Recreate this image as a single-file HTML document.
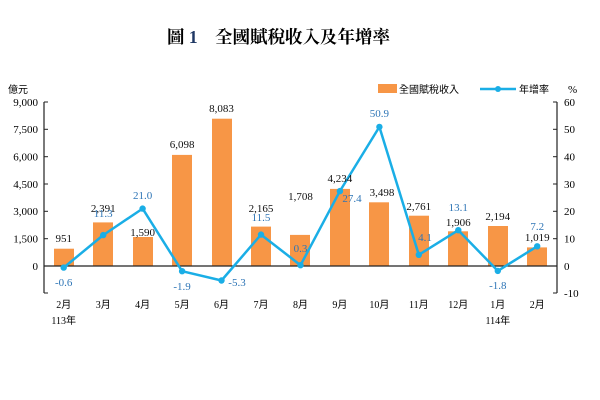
<!DOCTYPE html>
<html><head><meta charset="utf-8"><style>
html,body{margin:0;padding:0;background:#fff;}
svg{display:block;font-family:"Liberation Serif","Noto Serif CJK SC",serif;}
</style></head><body>
<svg width="600" height="400" viewBox="0 0 600 400" xmlns="http://www.w3.org/2000/svg">
<text x="278.5" y="43" text-anchor="middle" font-size="17.5" font-weight="bold" font-family="Liberation Serif, Noto Serif CJK TC, Noto Serif CJK SC, serif">圖 <tspan fill="#1f3864">1</tspan>　全國賦稅收入及年增率</text>
<text x="8" y="93" font-size="10" font-family="Liberation Serif, Noto Sans CJK TC, sans-serif">億元</text>
<text x="568" y="93" font-size="11">%</text>
<rect x="378" y="84" width="19" height="9" fill="#f79646"/>
<text x="399" y="93" font-size="10" font-family="Liberation Serif, Noto Sans CJK TC, sans-serif">全國賦稅收入</text>
<line x1="480" y1="89" x2="516" y2="89" stroke="#1aaee6" stroke-width="2.5"/>
<circle cx="498" cy="89" r="3" fill="#1aaee6"/>
<text x="519" y="93" font-size="10" font-family="Liberation Serif, Noto Sans CJK TC, sans-serif">年增率</text>
<g fill="#f79646">
<rect x="54" y="248.7" width="20" height="17.3"/>
<rect x="93" y="222.4" width="20" height="43.6"/>
<rect x="133" y="237" width="20" height="29"/>
<rect x="172" y="154.9" width="20" height="111.1"/>
<rect x="212" y="118.7" width="20" height="147.3"/>
<rect x="251" y="226.6" width="20" height="39.4"/>
<rect x="290" y="234.9" width="20" height="31.1"/>
<rect x="330" y="188.9" width="20" height="77.1"/>
<rect x="369" y="202.3" width="20" height="63.7"/>
<rect x="409" y="215.7" width="20" height="50.3"/>
<rect x="448" y="231.3" width="20" height="34.7"/>
<rect x="488" y="226" width="20" height="40"/>
<rect x="527" y="247.4" width="20" height="18.6"/>
</g>
<g stroke="#222" stroke-width="1.2" fill="none">
<line x1="44" y1="102" x2="44" y2="293"/>
<line x1="557" y1="102" x2="557" y2="293"/>
<line x1="44" y1="266" x2="557" y2="266"/>
</g>
<g stroke="#222" stroke-width="1">
<line x1="44" y1="102" x2="48" y2="102"/><line x1="44" y1="129.3" x2="48" y2="129.3"/><line x1="44" y1="156.7" x2="48" y2="156.7"/><line x1="44" y1="184" x2="48" y2="184"/><line x1="44" y1="211.3" x2="48" y2="211.3"/><line x1="44" y1="238.7" x2="48" y2="238.7"/><line x1="44" y1="293" x2="48" y2="293"/>
<line x1="553" y1="102" x2="557" y2="102"/><line x1="553" y1="129.3" x2="557" y2="129.3"/><line x1="553" y1="156.7" x2="557" y2="156.7"/><line x1="553" y1="184" x2="557" y2="184"/><line x1="553" y1="211.3" x2="557" y2="211.3"/><line x1="553" y1="238.7" x2="557" y2="238.7"/><line x1="553" y1="293" x2="557" y2="293"/>
</g>
<g font-size="11" text-anchor="end">
<text x="38" y="106">9,000</text><text x="38" y="133">7,500</text><text x="38" y="160.5">6,000</text><text x="38" y="188">4,500</text><text x="38" y="215">3,000</text><text x="38" y="242.5">1,500</text><text x="38" y="270">0</text>
</g>
<g font-size="11" text-anchor="start">
<text x="564" y="106">60</text><text x="564" y="133">50</text><text x="564" y="160.5">40</text><text x="564" y="188">30</text><text x="564" y="215">20</text><text x="564" y="242.5">10</text><text x="564" y="270">0</text><text x="564" y="297">-10</text>
</g>
<polyline fill="none" stroke="#1aaee6" stroke-width="2.5" stroke-linejoin="round" points="63.7,267.6 103.2,235.1 142.6,208.6 182.1,271.2 221.5,280.5 261,234.6 300.5,265.2 339.9,191.1 379.4,126.9 418.8,254.8 458.3,230.2 497.8,270.9 537.2,246.3"/>
<g fill="#1aaee6">
<circle cx="63.7" cy="267.6" r="3.2"/><circle cx="103.2" cy="235.1" r="3.2"/><circle cx="142.6" cy="208.6" r="3.2"/><circle cx="182.1" cy="271.2" r="3.2"/><circle cx="221.5" cy="280.5" r="3.2"/><circle cx="261" cy="234.6" r="3.2"/><circle cx="300.5" cy="265.2" r="3.2"/><circle cx="339.9" cy="191.1" r="3.2"/><circle cx="379.4" cy="126.9" r="3.2"/><circle cx="418.8" cy="254.8" r="3.2"/><circle cx="458.3" cy="230.2" r="3.2"/><circle cx="497.8" cy="270.9" r="3.2"/><circle cx="537.2" cy="246.3" r="3.2"/>
</g>
<g font-size="11" text-anchor="middle" fill="#111">
<text x="63.7" y="242">951</text><text x="103.2" y="212">2,391</text><text x="142.6" y="236">1,590</text><text x="182.1" y="148">6,098</text><text x="221.5" y="112">8,083</text><text x="261" y="212">2,165</text><text x="300.5" y="200">1,708</text><text x="339.9" y="182">4,234</text><text x="382" y="196">3,498</text><text x="418.8" y="210">2,761</text><text x="458.3" y="226">1,906</text><text x="497.8" y="220">2,194</text><text x="537.2" y="241">1,019</text>
</g>
<g font-size="11" text-anchor="middle" fill="#2e75b6">
<text x="63.7" y="286">-0.6</text><text x="103.2" y="217">11.3</text><text x="142.6" y="199">21.0</text><text x="182.1" y="290">-1.9</text><text x="237" y="286">-5.3</text><text x="261" y="221">11.5</text><text x="300.5" y="252">0.3</text><text x="352" y="202">27.4</text><text x="379.4" y="117">50.9</text><text x="425" y="241">4.1</text><text x="458.3" y="211">13.1</text><text x="497.8" y="289">-1.8</text><text x="537.2" y="230">7.2</text>
</g>
<g font-size="10" text-anchor="middle" font-family="Liberation Serif, Noto Sans CJK TC, sans-serif">
<text x="63.7" y="308">2月</text><text x="103.2" y="308">3月</text><text x="142.6" y="308">4月</text><text x="182.1" y="308">5月</text><text x="221.5" y="308">6月</text><text x="261" y="308">7月</text><text x="300.5" y="308">8月</text><text x="339.9" y="308">9月</text><text x="379.4" y="308">10月</text><text x="418.8" y="308">11月</text><text x="458.3" y="308">12月</text><text x="497.8" y="308">1月</text><text x="537.2" y="308">2月</text>
<text x="63.7" y="324">113年</text><text x="497.8" y="324">114年</text>
</g>
</svg>
</body></html>
